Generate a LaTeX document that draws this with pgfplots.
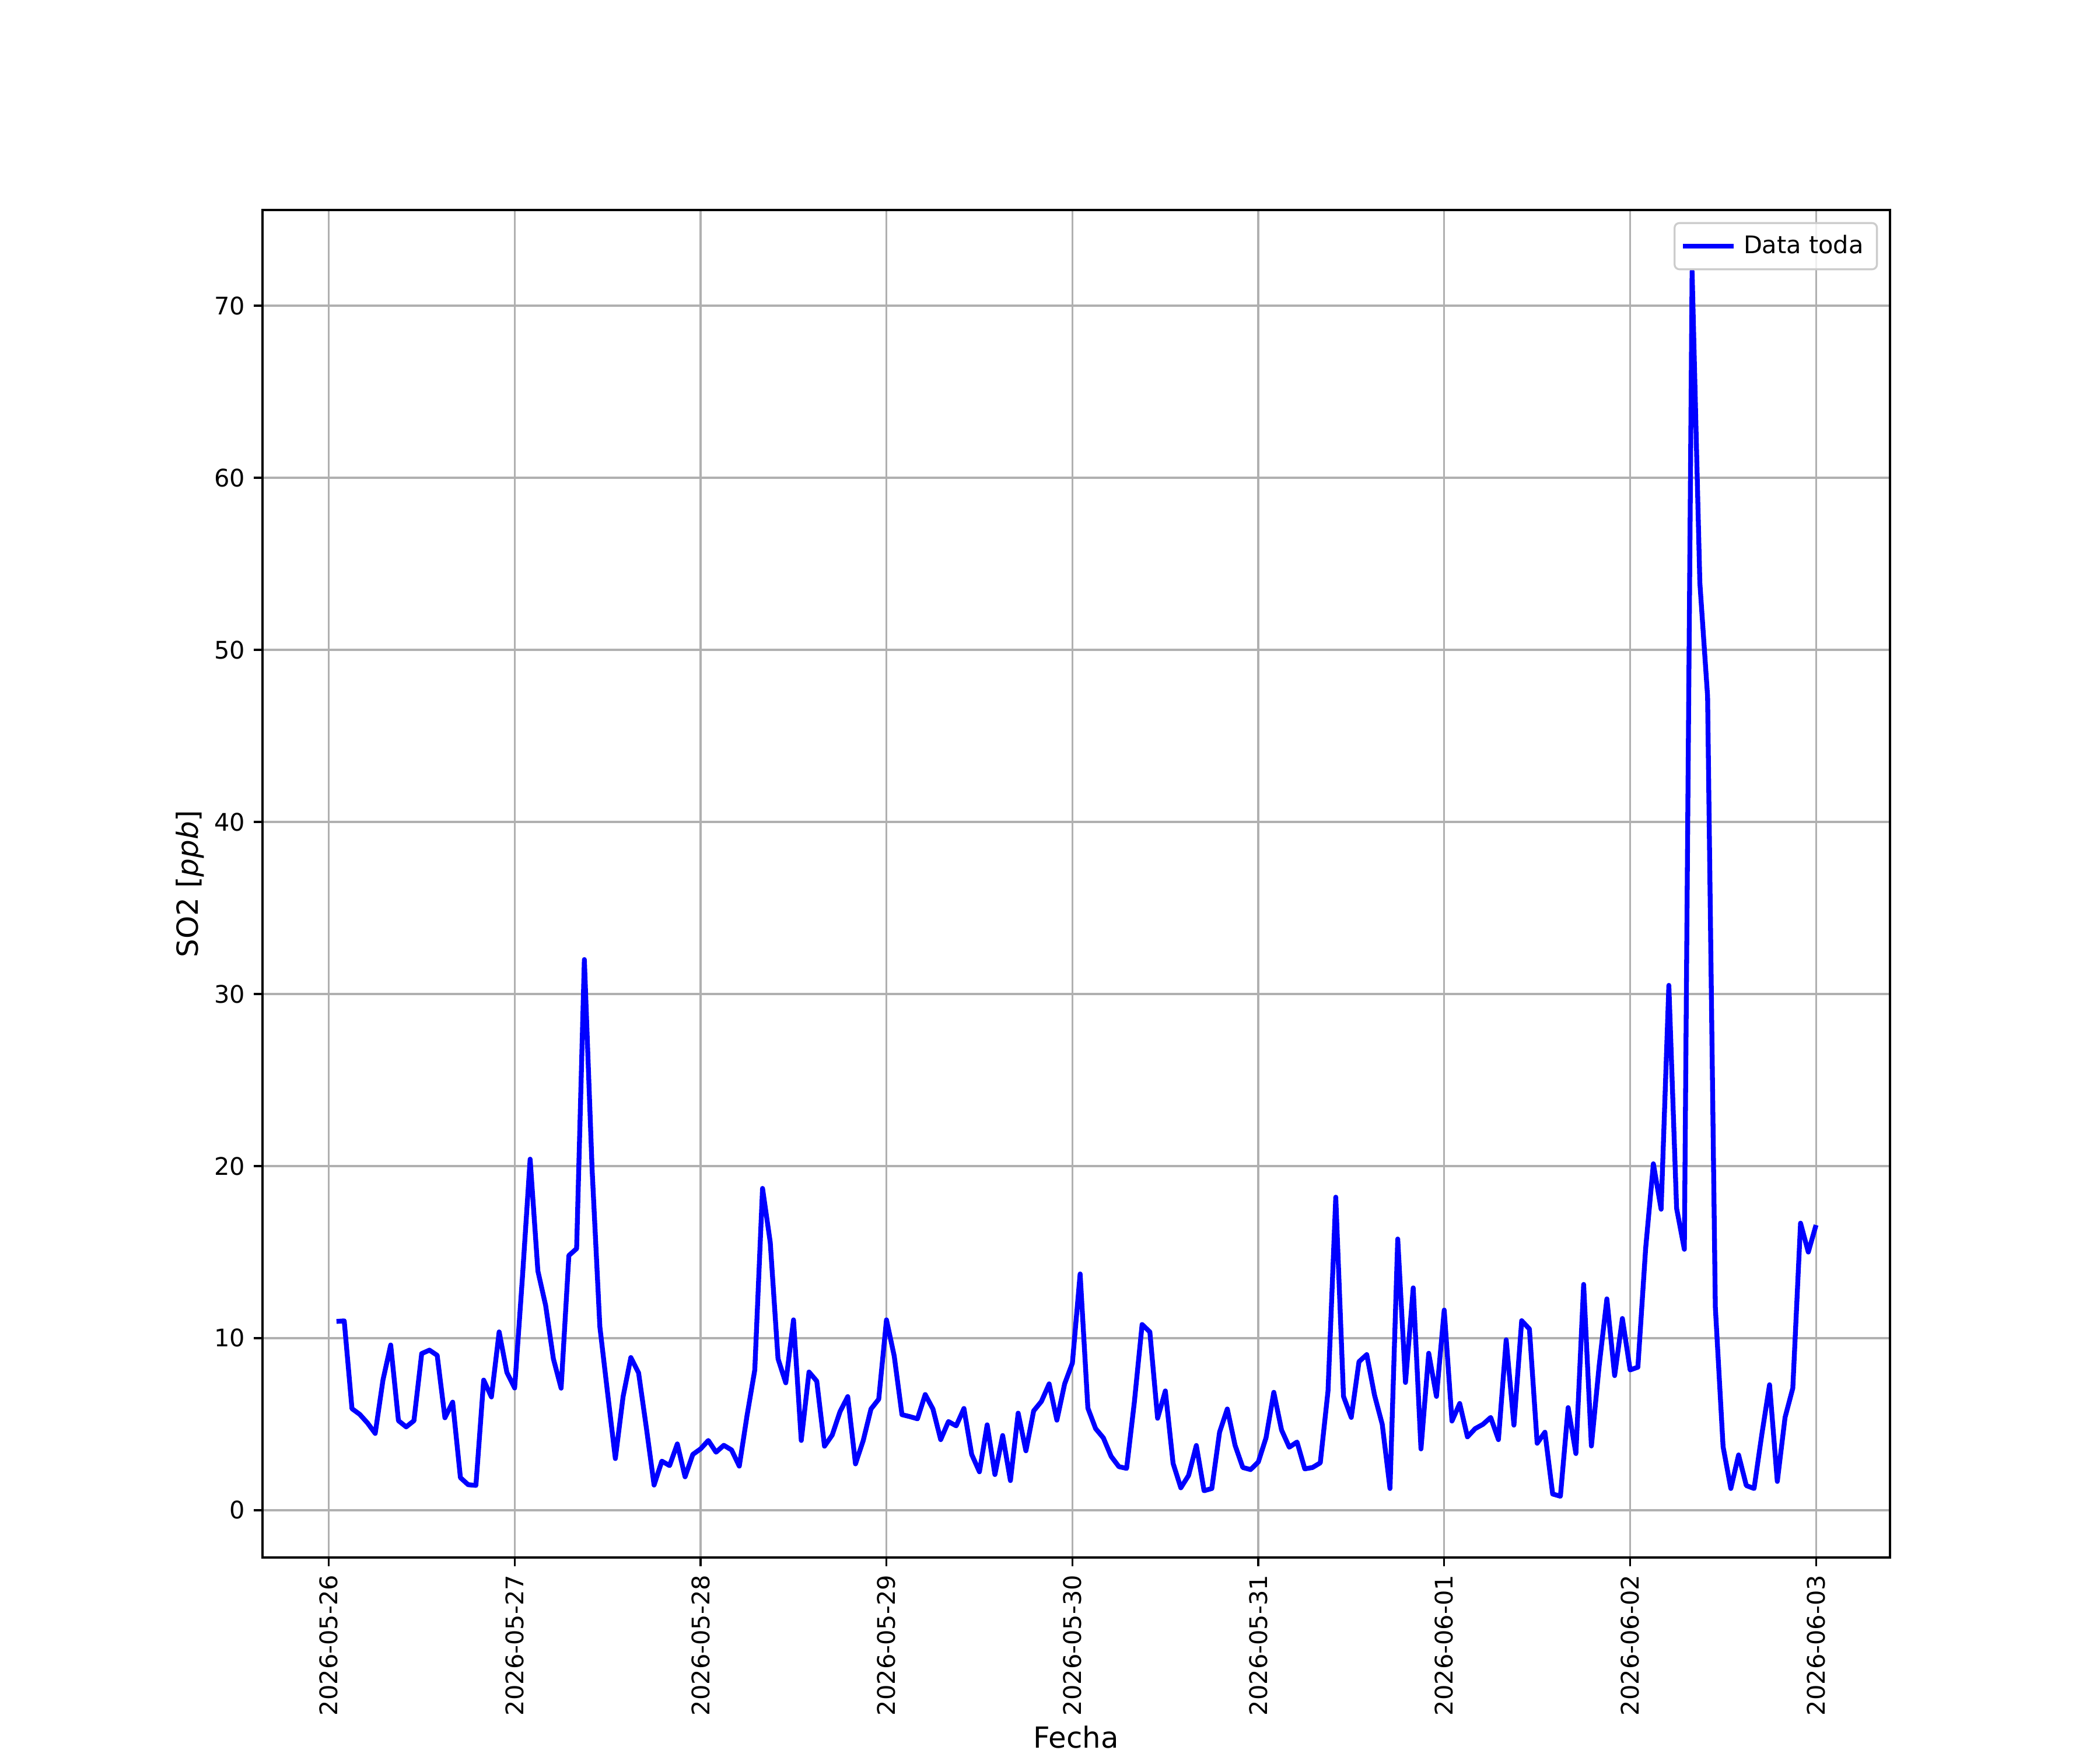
\documentclass[border=0pt]{standalone}
\usepackage{fontspec}
\setmainfont{DejaVu Sans}
\usepackage{pgfplots}
\pgfplotsset{compat=1.18}
\usepackage{pgfplotstable}
\pgfplotstableread{
h v
1 10.97
2 11.0
3 5.9
4 5.57
5 5.07
6 4.46
7 7.56
8 9.6
9 5.2
10 4.84
11 5.2
12 9.1
13 9.3
14 9.0
15 5.37
16 6.28
17 1.89
18 1.48
19 1.44
20 7.56
21 6.58
22 10.36
23 8.0
24 7.1
25 13.5
26 20.4
27 13.9
28 11.9
29 8.8
30 7.09
31 14.8
32 15.2
33 32.0
34 19.8
35 10.66
36 6.8
37 3.0
38 6.6
39 8.87
40 7.98
41 4.8
42 1.46
43 2.85
44 2.59
45 3.85
46 1.94
47 3.24
48 3.56
49 4.05
50 3.37
51 3.77
52 3.5
53 2.56
54 5.5
55 8.15
56 18.7
57 15.55
58 8.8
59 7.4
60 11.06
61 4.05
62 8.03
63 7.5
64 3.72
65 4.37
66 5.72
67 6.6
68 2.69
69 4.05
70 5.88
71 6.45
72 11.06
73 8.96
74 5.55
75 5.44
76 5.31
77 6.72
78 5.88
79 4.1
80 5.15
81 4.9
82 5.91
83 3.24
84 2.23
85 4.96
86 2.07
87 4.34
88 1.72
89 5.64
90 3.45
91 5.77
92 6.32
93 7.34
94 5.23
95 7.34
96 8.55
97 13.73
98 5.93
99 4.74
100 4.2
101 3.13
102 2.53
103 2.43
104 6.28
105 10.79
106 10.36
107 5.34
108 6.93
109 2.72
110 1.3
111 2.02
112 3.76
113 1.13
114 1.26
115 4.53
116 5.88
117 3.77
118 2.48
119 2.36
120 2.8
121 4.21
122 6.85
123 4.66
124 3.66
125 3.96
126 2.4
127 2.48
128 2.75
129 6.93
130 18.19
131 6.61
132 5.39
133 8.63
134 9.04
135 6.69
136 4.99
137 1.26
138 15.76
139 7.42
140 12.92
141 3.56
142 9.12
143 6.61
144 11.63
145 5.18
146 6.2
147 4.26
148 4.74
149 4.99
150 5.39
151 4.1
152 9.9
153 4.94
154 11.01
155 10.53
156 3.89
157 4.53
158 0.94
159 0.81
160 5.96
161 3.29
162 13.12
163 3.73
164 8.39
165 12.28
166 7.82
167 11.14
168 8.15
169 8.31
170 15.19
171 20.13
172 17.49
173 30.5
174 17.54
175 15.16
176 72.0
177 53.9
178 47.3
179 11.8
180 3.69
181 1.26
182 3.21
183 1.43
184 1.26
185 4.4
186 7.29
187 1.67
188 5.39
189 7.09
190 16.68
191 15.0
192 16.57
}\datatable
\begin{document}
\begin{tikzpicture}
\begin{axis}[
  at={(1.5in,1.1in)}, anchor=south west,
  scale only axis,
  width=9.3in, height=7.7in,
  xmin=-8.55, xmax=201.55,
  ymin=-2.75, ymax=75.56,
  xtick={0,24,48,72,96,120,144,168,192},
  xticklabels={2026-05-26,2026-05-27,2026-05-28,2026-05-29,2026-05-30,2026-05-31,2026-06-01,2026-06-02,2026-06-03},
  ytick={0,10,20,30,40,50,60,70},
  /pgf/number format/assume math mode=true,
  tick align=outside,
  major tick length=3.5pt,
  tick style={black, line width=0.8pt},
  xtick pos=bottom, ytick pos=left,
  axis line style={black, line width=0.8pt},
  grid=major,
  major grid style={color=black!31, line width=0.8pt},
  tick label style={font=\fontsize{10}{12}\selectfont, inner sep=0pt},
  xticklabel style={rotate=90, anchor=east},
  xticklabel shift={3.5pt},
  yticklabel shift={3.5pt},
  xlabel={Fecha},
  ylabel={SO2 [\textit{ppb}]},
  label style={font=\fontsize{12}{14}\selectfont},
  xlabel style={inner sep=0pt, yshift=-4pt, anchor=north},
  ylabel style={inner sep=0pt, yshift=4pt, anchor=south},
  legend style={at={(1,1)}, anchor=north east, xshift=-5pt, yshift=-5pt,
    draw=black!20, line width=0.8pt, rounded corners=2pt, fill=white, fill opacity=0.8, text opacity=1,
    font=\fontsize{10}{12}\selectfont, inner xsep=2.5pt, inner ysep=3pt,
    nodes={inner xsep=3pt}},
  legend cell align=left,
  legend image code/.code={\draw[#1] (0pt,0pt) -- (21pt,0pt);},
]
\addplot[color=blue, line width=2pt, line join=round] table[x=h, y=v] {\datatable};
\addlegendentry{Data toda}
\end{axis}
\pgfresetboundingbox
\path[use as bounding box] (0,0) rectangle (12in,10in);
\end{tikzpicture}
\end{document}
